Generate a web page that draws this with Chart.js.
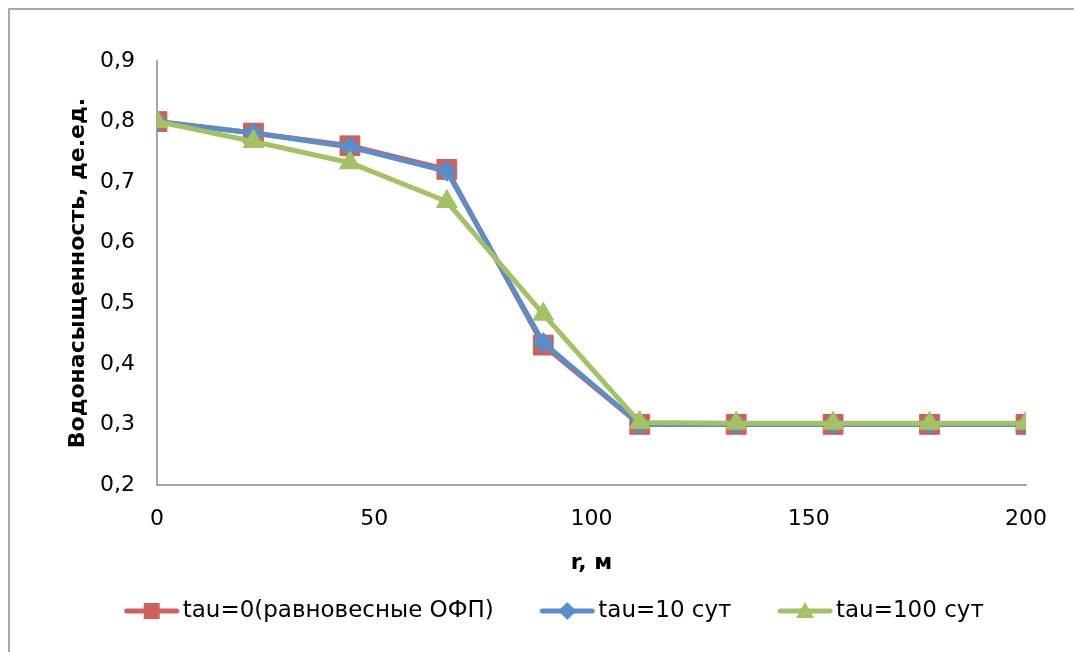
<!DOCTYPE html>
<html><head><meta charset="utf-8">
<script src="https://cdn.jsdelivr.net/npm/chart.js@4.4.1/dist/chart.umd.min.js"></script>
<style>
html,body{margin:0;padding:0;background:#fff;overflow:hidden;width:1074px;height:652px;position:relative}
.fl{position:absolute;background:#a9a9a9}
#fl1{left:8px;top:8px;width:2px;height:644px}
#fl2{left:8px;top:8px;width:1066px;height:2px}
#c{position:absolute;left:0;top:0}
</style></head><body>
<div class="fl" id="fl1"></div><div class="fl" id="fl2"></div>
<canvas id="c" width="1074" height="652"></canvas>
<script>
const rValues = [0, 22.2, 44.4, 66.7, 88.9, 111.1, 133.3, 155.6, 177.8, 200];
const seriesNames = ['tau=0(равновесные ОФП)', 'tau=10 сут', 'tau=100 сут'];
const tau0 = [0.800, 0.781, 0.760, 0.721, 0.431, 0.300, 0.300, 0.300, 0.300, 0.300];
const tau10 = [0.800, 0.781, 0.758, 0.718, 0.435, 0.300, 0.300, 0.300, 0.300, 0.300];
const tau100 = [0.800, 0.767, 0.732, 0.668, 0.482, 0.303, 0.302, 0.302, 0.302, 0.302];
const xTickLabels = ['0', '50', '100', '150', '200'];
const yTickLabels = ['0,2', '0,3', '0,4', '0,5', '0,6', '0,7', '0,8', '0,9'];
const xTitle = 'r, м';
const yTitle = 'Водонасыщенность, де.ед.';

const colors = ['#CD615B', '#5A8ECB', '#A3C264'];
const shapes = ['rect', 'rectRot', 'triangle'];
const radii = [14, 10, 12];

Chart.defaults.font.family = "'DejaVu Sans', sans-serif";
Chart.defaults.color = '#000';

function legendImage(i) {
  const c = document.createElement('canvas');
  c.width = 56; c.height = 24;
  const g = c.getContext('2d');
  g.strokeStyle = colors[i]; g.fillStyle = colors[i];
  g.lineWidth = 5; g.lineCap = 'round';
  g.beginPath(); g.moveTo(3, 12); g.lineTo(53, 12); g.stroke();
  g.beginPath();
  if (i === 0) { g.rect(20, 4, 16, 16); }
  else if (i === 1) { g.moveTo(28, 3); g.lineTo(37, 12); g.lineTo(28, 21); g.lineTo(19, 12); g.closePath(); }
  else { g.moveTo(28, 3); g.lineTo(37, 19); g.lineTo(19, 19); g.closePath(); }
  g.fill();
  return c;
}
const legendImgs = [0, 1, 2].map(legendImage);

const seriesValues = [tau0, tau10, tau100];
const datasets = seriesValues.map((vals, i) => ({
  label: seriesNames[i],
  data: rValues.map((x, k) => ({x: x, y: vals[k]})),
  borderColor: colors[i],
  backgroundColor: colors[i],
  borderWidth: 5,
  pointStyle: shapes[i],
  pointRadius: radii[i],
  pointBorderWidth: 1,
  pointBorderColor: colors[i],
  pointBackgroundColor: colors[i],
  tension: 0,
  order: 3 - i
}));

new Chart(document.getElementById('c'), {
  type: 'line',
  data: {datasets},
  options: {
    responsive: false,
    animation: false,
    devicePixelRatio: 1,
    layout: {padding: {left: 42, right: 0, top: 61, bottom: 19.5}},
    plugins: {
      tooltip: {enabled: false},
      legend: {
        position: 'bottom',
        align: 'center',
        labels: {
          usePointStyle: true,
          pointStyleWidth: 39,
          padding: 54,
          font: {size: 23},
          color: '#000',
          generateLabels: (chart) => chart.data.datasets.map((ds, i) => ({
            text: ds.label,
            pointStyle: legendImgs[i],
            datasetIndex: i,
            hidden: false,
            lineWidth: 0,
            fillStyle: 'rgba(0,0,0,0)',
            strokeStyle: 'rgba(0,0,0,0)',
            fontColor: '#000'
          }))
        }
      }
    },
    scales: {
      x: {
        type: 'linear',
        min: 0, max: 200,
        afterFit: (s) => { s.height = 60.5; },
        ticks: {stepSize: 50, padding: 21, font: {size: 22}, color: '#000',
          callback: (v, idx) => xTickLabels[idx]},
        grid: {display: false, drawTicks: false},
        border: {display: true, color: '#a6a6a6', width: 2},
        title: {display: true, text: xTitle, font: {size: 22, weight: 'bold'}, color: '#000',
          padding: {top: 0, bottom: -30.7}}
      },
      y: {
        type: 'linear',
        min: 0.2, max: 0.9,
        afterFit: (s) => { s.width = 115; },
        ticks: {stepSize: 0.1, padding: 22, font: {size: 22}, color: '#000',
          callback: (v, idx) => yTickLabels[idx]},
        grid: {display: false, drawTicks: false},
        border: {display: true, color: '#a6a6a6', width: 2},
        title: {display: true, text: yTitle, font: {size: 22, weight: 'bold'}, color: '#000',
          padding: {top: 22.8, bottom: 0}}
      },
      yRight: {
        type: 'linear',
        position: 'right',
        min: 0, max: 1,
        afterFit: (s) => { s.width = 48; },
        ticks: {display: false},
        grid: {display: false, drawTicks: false},
        border: {display: false}
      }
    }
  }
});
</script>
</body></html>
